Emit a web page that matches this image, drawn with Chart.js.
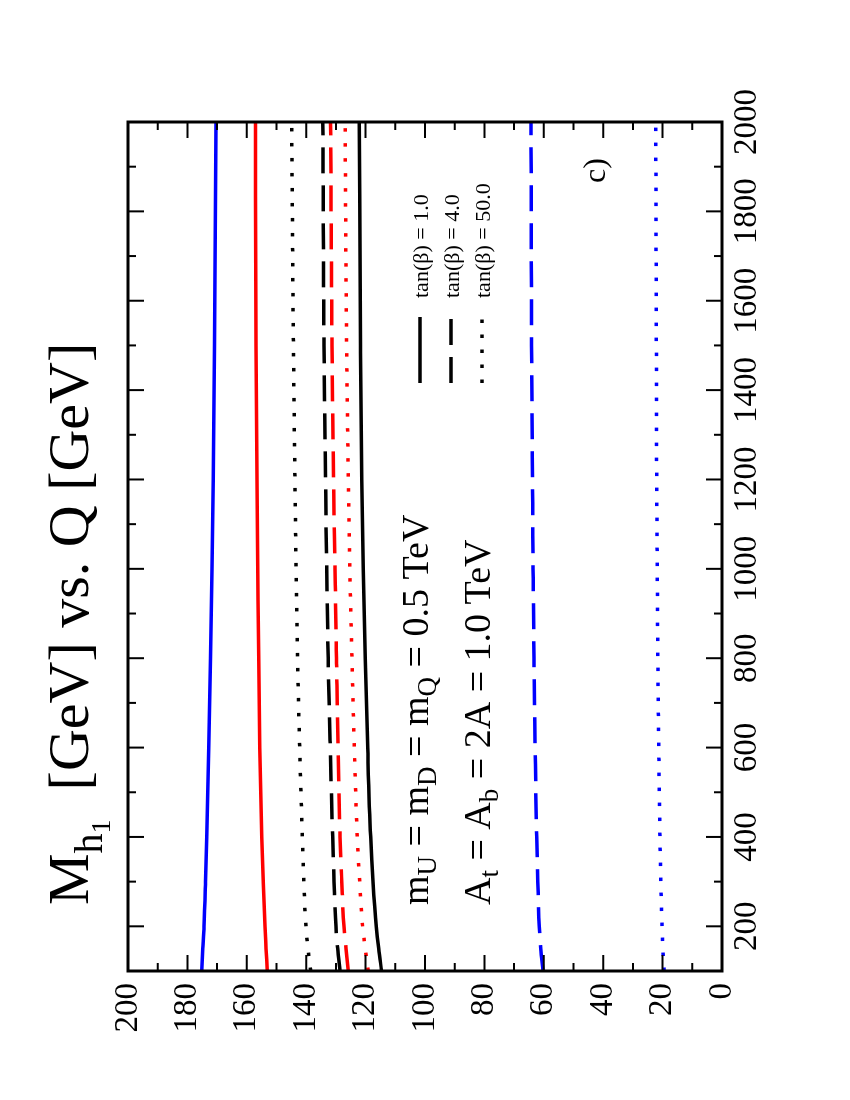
<!DOCTYPE html>
<html><head><meta charset="utf-8">
<script src="https://cdn.jsdelivr.net/npm/chart.js@4.4.0/dist/chart.umd.min.js"></script>
<style>
html,body{margin:0;padding:0;background:#fff;}
#page{position:relative;width:850px;height:1100px;overflow:hidden;background:#fff;}
#rot{position:absolute;left:0;top:0;width:1100px;height:850px;transform-origin:0 0;transform:translate(0,1100px) rotate(-90deg);}
canvas{display:block;}
</style></head><body>
<div id="page"><div id="rot"><canvas id="c" width="1100" height="850"></canvas></div></div>
<script>
// Q [GeV] sample points
const Q = [100,150,200,300,400,600,800,1000,1200,1500,2000];
// M_h1 [GeV] curves
const blueSolid  = [175.2,174.8,174.4,173.9,173.5,172.8,172.2,171.7,171.3,170.9,170.4];
const redSolid   = [153.1,153.5,153.9,154.5,155.0,155.6,156.0,156.3,156.6,156.9,157.1];
const blackDot   = [138.5,139.4,140.1,140.8,141.3,142.2,142.9,143.4,143.8,144.3,144.9];
const blackDash  = [128.6,129.4,130.0,130.6,131.1,131.9,132.6,133.1,133.5,134.0,134.4];
const redDash    = [125.8,126.6,127.3,128.0,128.6,129.3,129.8,130.3,130.8,131.3,131.8];
const redDot     = [119.1,120.1,121.0,122.0,122.8,123.8,124.6,125.3,125.8,126.4,126.9];
const blackSolid = [114.6,115.6,116.4,117.5,118.3,119.3,120.1,120.8,121.3,121.7,122.1];
const blueDash   = [60.3,61.0,61.5,62.0,62.4,62.9,63.3,63.6,63.8,64.1,64.3];
const blueDot    = [19.5,19.9,20.2,20.6,20.9,21.3,21.6,21.8,22.0,22.1,22.3];
// tick labels
const qTicks = [200,400,600,800,1000,1200,1400,1600,1800,2000];
const massTicks = [0,20,40,60,80,100,120,140,160,180,200];
const legendLabels = ['tan(\u03b2) = 1.0','tan(\u03b2) = 4.0','tan(\u03b2) = 50.0'];

const FONT = "'Liberation Serif','Times New Roman',serif";
const SOLID = [], DASH = [26,12], DOT = [3.5,11.5];
function mk(vals, color, dash){
  return {data: Q.map((q,i)=>({x:q,y:vals[i]})), borderColor: color, borderWidth: 3.5,
    borderDash: dash, borderCapStyle:'butt', pointRadius:0, fill:false, cubicInterpolationMode:'monotone'};
}
const datasets = [
  mk(blueSolid,'#0000ff',SOLID), mk(redSolid,'#ff0000',SOLID), mk(blackDot,'#000000',DOT),
  mk(blackDash,'#000000',DASH), mk(redDash,'#ff0000',DASH), mk(redDot,'#ff0000',DOT),
  mk(blackSolid,'#000000',SOLID), mk(blueDash,'#0000ff',DASH), mk(blueDot,'#0000ff',DOT)
];

function subText(ctx, parts, x, y){
  for (const [t,s,dy] of parts){
    ctx.font = s+'px '+FONT;
    ctx.fillText(t, x, y+dy);
    x += ctx.measureText(t).width;
  }
  return x;
}

const decor = {
  id:'decor',
  afterDatasetsDraw(chart){
    const ctx = chart.ctx, a = chart.chartArea;
    const xs = chart.scales.x, ys = chart.scales.y;
    ctx.save();
    ctx.strokeStyle='#000'; ctx.lineWidth=2;
    for (let v=200; v<2000; v+=100){
      const px = xs.getPixelForValue(v), L = (v%200===0)?16:8;
      ctx.beginPath(); ctx.moveTo(px,a.bottom); ctx.lineTo(px,a.bottom-L);
      ctx.moveTo(px,a.top); ctx.lineTo(px,a.top+L); ctx.stroke();
    }
    for (let v=10; v<200; v+=10){
      const py = ys.getPixelForValue(v), L = (v%20===0)?16:8;
      ctx.beginPath(); ctx.moveTo(a.left,py); ctx.lineTo(a.left+L,py);
      ctx.moveTo(a.right,py); ctx.lineTo(a.right-L,py); ctx.stroke();
    }
    ctx.lineWidth=3;
    ctx.strokeRect(a.left,a.top,a.right-a.left,a.bottom-a.top);
    ctx.fillStyle='#000'; ctx.textBaseline='alphabetic'; ctx.textAlign='left';
    // title
    let x = subText(ctx, [['M',58,0]], 195, 88);
    x = subText(ctx, [['h',40,14]], x, 88);
    x = subText(ctx, [['1',28,22]], x, 88);
    subText(ctx, [['  [GeV] vs. Q [GeV]',58,0]], x, 88);
    // annotations
    subText(ctx, [['m',38,0],['U',27,8],[' = m',38,0],['D',27,8],[' = m',38,0],['Q',27,8],[' = 0.5 TeV',38,0]], 195, 428);
    subText(ctx, [['A',38,0],['t',27,8],[' = A',38,0],['b',27,8],[' = 2A = 1.0 TeV',38,0]], 195, 490);
    // legend
    const ly = [420,451,482], dashes=[SOLID,DASH,DOT];
    ctx.font = '22px '+FONT;
    for (let i=0;i<3;i++){
      ctx.fillText(legendLabels[i], 802, ly[i]+8);
      ctx.beginPath(); ctx.setLineDash(dashes[i]); ctx.lineWidth=3.5; ctx.lineCap='butt';
      ctx.moveTo(717,ly[i]); ctx.lineTo(783,ly[i]); ctx.stroke();
    }
    ctx.setLineDash([]);
    ctx.font = '32px '+FONT;
    ctx.fillText('c)', 917, 605);
    ctx.restore();
  }
};

new Chart(document.getElementById('c'), {
  type:'line',
  data:{datasets},
  options:{
    responsive:false, animation:false, devicePixelRatio:1,
    layout:{padding:{top:128,right:122,left:0,bottom:0}},
    plugins:{legend:{display:false}, title:{display:false}, tooltip:{enabled:false}},
    scales:{
      x:{type:'linear', min:100, max:2000,
         afterBuildTicks(s){ s.ticks = qTicks.map(v=>({value:v})); },
         afterFit(s){ s.height = 128; },
         grid:{display:false, drawTicks:false}, border:{display:false},
         ticks:{font:{family:FONT,size:33}, color:'#000', padding:6, maxRotation:0, autoSkip:false, callback:v=>String(v)}},
      y:{type:'linear', min:0, max:200,
         afterBuildTicks(s){ s.ticks = massTicks.map(v=>({value:v})); },
         afterFit(s){ s.width = 129; },
         grid:{display:false, drawTicks:false}, border:{display:false},
         ticks:{font:{family:FONT,size:33}, color:'#000', padding:12, callback:v=>String(v)}}
    }
  },
  plugins:[decor]
});
</script>
</body></html>
